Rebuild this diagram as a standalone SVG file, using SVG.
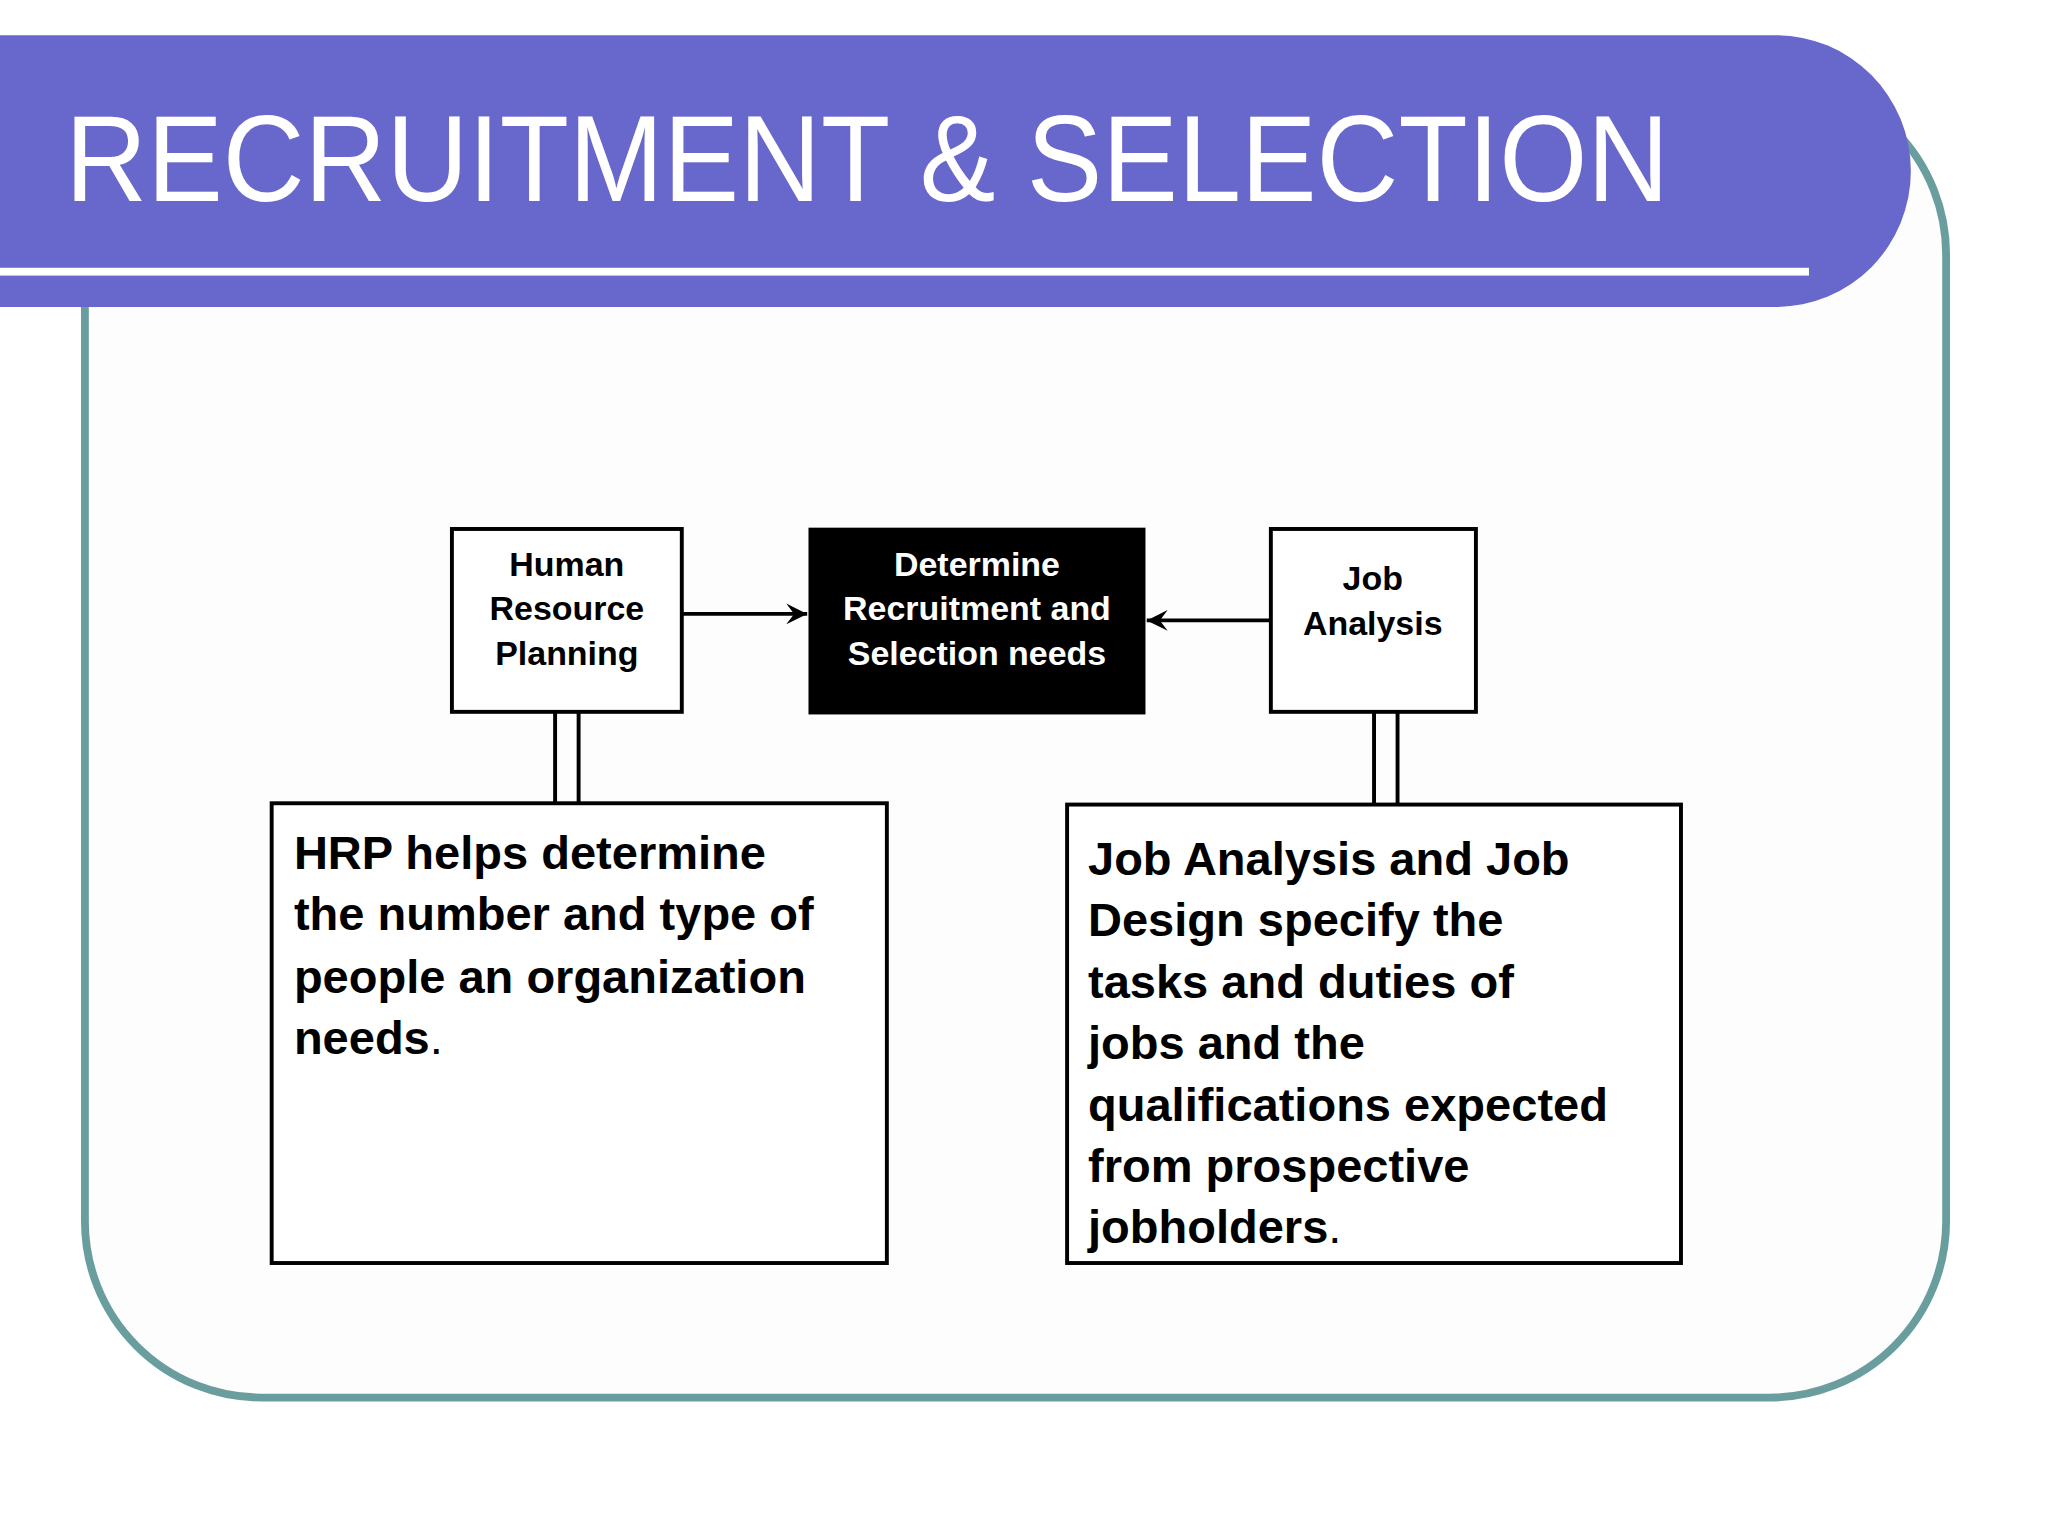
<svg xmlns="http://www.w3.org/2000/svg" width="2048" height="1536" viewBox="0 0 2048 1536">
<defs>
<style>
.box{fill:#fff;stroke:#000;stroke-width:3}
.s{font-family:"Liberation Sans",Arial,sans-serif;font-weight:bold;font-size:26px;text-anchor:middle}
.b{font-family:"Liberation Sans",Arial,sans-serif;font-weight:bold;font-size:36px}
.ln{stroke:#000;stroke-width:3;fill:none}
</style>
<marker id="ah" viewBox="0 0 20 20" refX="18" refY="10" markerWidth="20" markerHeight="20" markerUnits="userSpaceOnUse" orient="auto">
<path d="M2,2 L18,10 L2,18 L8,10 Z" fill="#000"/>
</marker>
</defs>
<rect width="2048" height="1536" fill="#fff"/>
<g transform="scale(1.30612)">
<rect x="65" y="60" width="1425" height="1010" rx="135" fill="#fdfdfd" stroke="#6a9e9e" stroke-width="6"/>
<path d="M0,27 H1360 A103,104 0 0 1 1360,235 H0 Z" fill="#6767cc"/>
<rect x="0" y="205" width="1385" height="6" fill="#fff"/>
<text x="50" y="154" font-family="Liberation Sans,Arial,sans-serif" font-size="94" fill="#fff" textLength="1228" lengthAdjust="spacingAndGlyphs">RECRUITMENT &amp; SELECTION</text>

<g id="connectors">
<line class="ln" x1="523" y1="470" x2="618" y2="470" marker-end="url(#ah)"/>
<line class="ln" x1="972" y1="475" x2="878" y2="475" marker-end="url(#ah)"/>
<line class="ln" x1="425" y1="545" x2="425" y2="615"/>
<line class="ln" x1="443" y1="545" x2="443" y2="615"/>
<line class="ln" x1="1052" y1="545" x2="1052" y2="615"/>
<line class="ln" x1="1070" y1="545" x2="1070" y2="615"/>
</g>

<g id="hrp"><rect class="box" x="346" y="405" width="176" height="140"/>
<text class="s" x="434"><tspan x="434" y="441">Human</tspan><tspan x="434" y="475">Resource</tspan><tspan x="434" y="509">Planning</tspan></text></g>
<g id="determine"><rect x="620" y="405" width="256" height="141" fill="#000" stroke="#000" stroke-width="2"/>
<text class="s" fill="#fff"><tspan x="748" y="441">Determine</tspan><tspan x="748" y="475">Recruitment and</tspan><tspan x="748" y="509">Selection needs</tspan></text></g>
<g id="job"><rect class="box" x="973" y="405" width="157" height="140"/>
<text class="s"><tspan x="1051" y="452">Job</tspan><tspan x="1051" y="486">Analysis</tspan></text></g>
<g id="hrpnote"><rect class="box" x="208" y="615" width="471" height="352"/>
<text class="b"><tspan x="225" y="665">HRP helps determine</tspan><tspan x="225" y="712">the number and type of</tspan><tspan x="225" y="760">people an organization</tspan><tspan x="225" y="807">needs<tspan font-weight="normal">.</tspan></tspan></text></g>
<g id="janote"><rect class="box" x="817" y="616" width="470" height="351"/>
<text class="b"><tspan x="833" y="670">Job Analysis and Job</tspan><tspan x="833" y="717">Design specify the</tspan><tspan x="833" y="764">tasks and duties of</tspan><tspan x="833" y="811">jobs and the</tspan><tspan x="833" y="858">qualifications expected</tspan><tspan x="833" y="905">from prospective</tspan><tspan x="833" y="952">jobholders<tspan font-weight="normal">.</tspan></tspan></text></g>
</g>
</svg>
